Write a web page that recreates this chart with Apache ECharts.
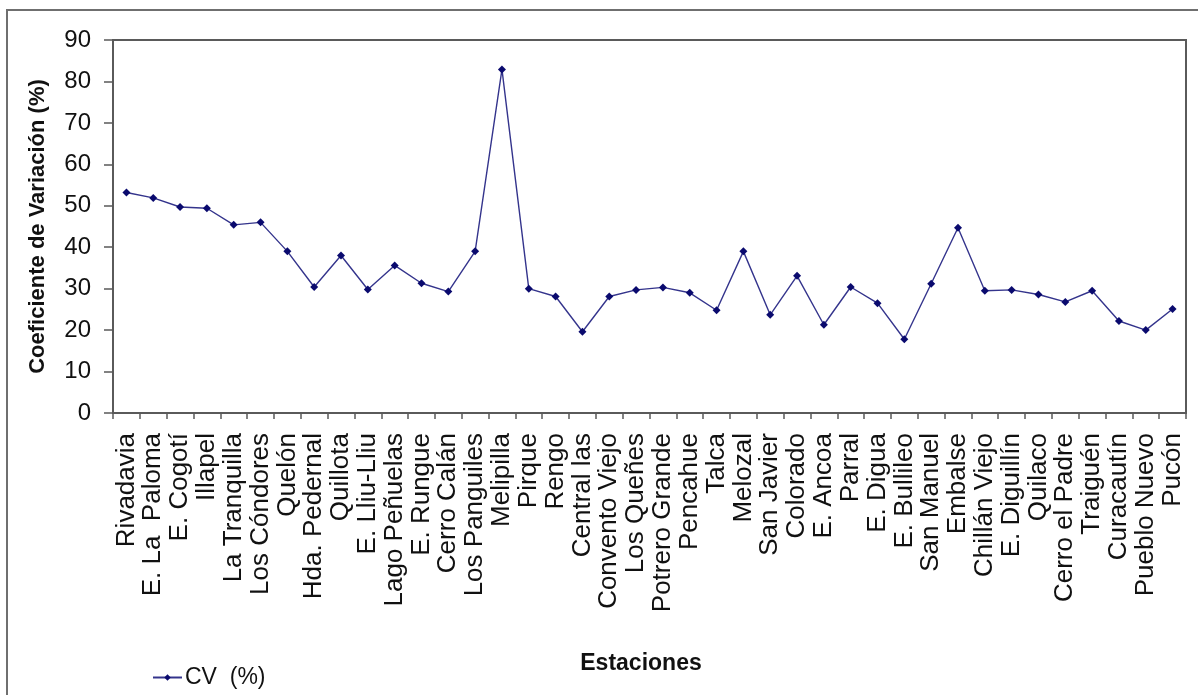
<!DOCTYPE html>
<html>
<head>
<meta charset="utf-8">
<title>Coeficiente de Variación por estación</title>
<script src="https://cdn.jsdelivr.net/npm/echarts@6/dist/echarts.min.js"></script>
<style>
  html, body { margin: 0; padding: 0; background: #ffffff; }
  #chart { width: 1198px; height: 695px; }
</style>
</head>
<body>
<div id="chart"></div>
<script>
// Stations along the x axis
const estaciones = [
  'Rivadavia', 'E. La  Paloma', 'E. Cogotí', 'Illapel', 'La Tranquilla', 'Los Cóndores',
  'Quelón', 'Hda. Pedernal', 'Quillota', 'E. Lliu-Lliu', 'Lago Peñuelas', 'E. Rungue',
  'Cerro Calán', 'Los Panguiles', 'Melipilla', 'Pirque', 'Rengo', 'Central las',
  'Convento Viejo', 'Los Queñes', 'Potrero Grande', 'Pencahue', 'Talca', 'Melozal',
  'San Javier', 'Colorado', 'E. Ancoa', 'Parral', 'E. Digua', 'E. Bullileo',
  'San Manuel', 'Embalse', 'Chillán Viejo', 'E. Diguillín', 'Quilaco', 'Cerro el Padre',
  'Traiguén', 'Curacautín', 'Pueblo Nuevo', 'Pucón'
];

// Coefficient of variation (%) per station
const cv = [
  53.2, 51.9, 49.7, 49.4, 45.4, 46.0,
  39.0, 30.4, 38.0, 29.8, 35.6, 31.3,
  29.3, 39.0, 82.9, 30.0, 28.1, 19.6,
  28.1, 29.7, 30.3, 29.0, 24.8, 39.0,
  23.7, 33.1, 21.3, 30.4, 26.5, 17.8,
  31.2, 44.7, 29.5, 29.7, 28.6, 26.8,
  29.5, 22.2, 20.0, 25.1
];

const serieNombre = 'CV  (%)';
const ejeY = { min: 0, max: 90, step: 10 };

const chart = echarts.init(document.getElementById('chart'), null, { renderer: 'canvas' });

const fuente = 'Arial, "Liberation Sans", sans-serif';
const colorEje = '#5a5a5a';

chart.setOption({
  animation: false,
  backgroundColor: '#ffffff',
  graphic: [
    {
      type: 'rect',
      shape: { x: 7, y: 10, width: 1230, height: 720 },
      style: { fill: 'none', stroke: '#6f6f6f', lineWidth: 2 },
      z: -1
    }
  ],
  grid: {
    left: 113,
    top: 40,
    right: 12,
    bottom: 282,
    show: true,
    borderColor: colorEje,
    borderWidth: 2,
    backgroundColor: '#ffffff'
  },
  legend: {
    data: [serieNombre],
    left: 147,
    top: 661,
    itemWidth: 29,
    itemHeight: 8,
    itemGap: 6,
    textStyle: { fontFamily: fuente, fontSize: 23, color: '#111111', padding: [0, 0, 0, -2] }
  },
  xAxis: {
    type: 'category',
    data: estaciones,
    boundaryGap: true,
    name: 'Estaciones',
    nameLocation: 'middle',
    nameGap: 239,
    nameTextStyle: {
      fontFamily: fuente, fontSize: 23, fontWeight: 'bold', color: '#111111',
      padding: [0, 17, 0, 0]
    },
    axisLine: { show: true, lineStyle: { color: colorEje, width: 2 } },
    axisTick: { show: true, length: 6, lineStyle: { color: colorEje, width: 1.5 } },
    axisLabel: {
      interval: 0,
      rotate: 90,
      margin: 20,
      fontFamily: fuente,
      fontSize: 26,
      color: '#111111'
    },
    splitLine: { show: false }
  },
  yAxis: {
    type: 'value',
    min: ejeY.min,
    max: ejeY.max,
    interval: ejeY.step,
    name: 'Coeficiente de Variación (%)',
    nameLocation: 'middle',
    nameRotate: 90,
    nameGap: 64,
    nameTextStyle: { fontFamily: fuente, fontSize: 22, fontWeight: 'bold', color: '#111111' },
    axisLine: { show: true, lineStyle: { color: colorEje, width: 2 } },
    axisTick: { show: true, length: 9, lineStyle: { color: colorEje, width: 1.5 } },
    axisLabel: { margin: 22, fontFamily: fuente, fontSize: 24, color: '#111111' },
    splitLine: { show: false }
  },
  series: [
    {
      name: serieNombre,
      type: 'line',
      data: cv,
      symbol: 'diamond',
      symbolSize: 8,
      showAllSymbol: true,
      lineStyle: { color: '#34348c', width: 1.4 },
      itemStyle: { color: '#0a0a6e', borderWidth: 0 }
    }
  ]
});
</script>
</body>
</html>
